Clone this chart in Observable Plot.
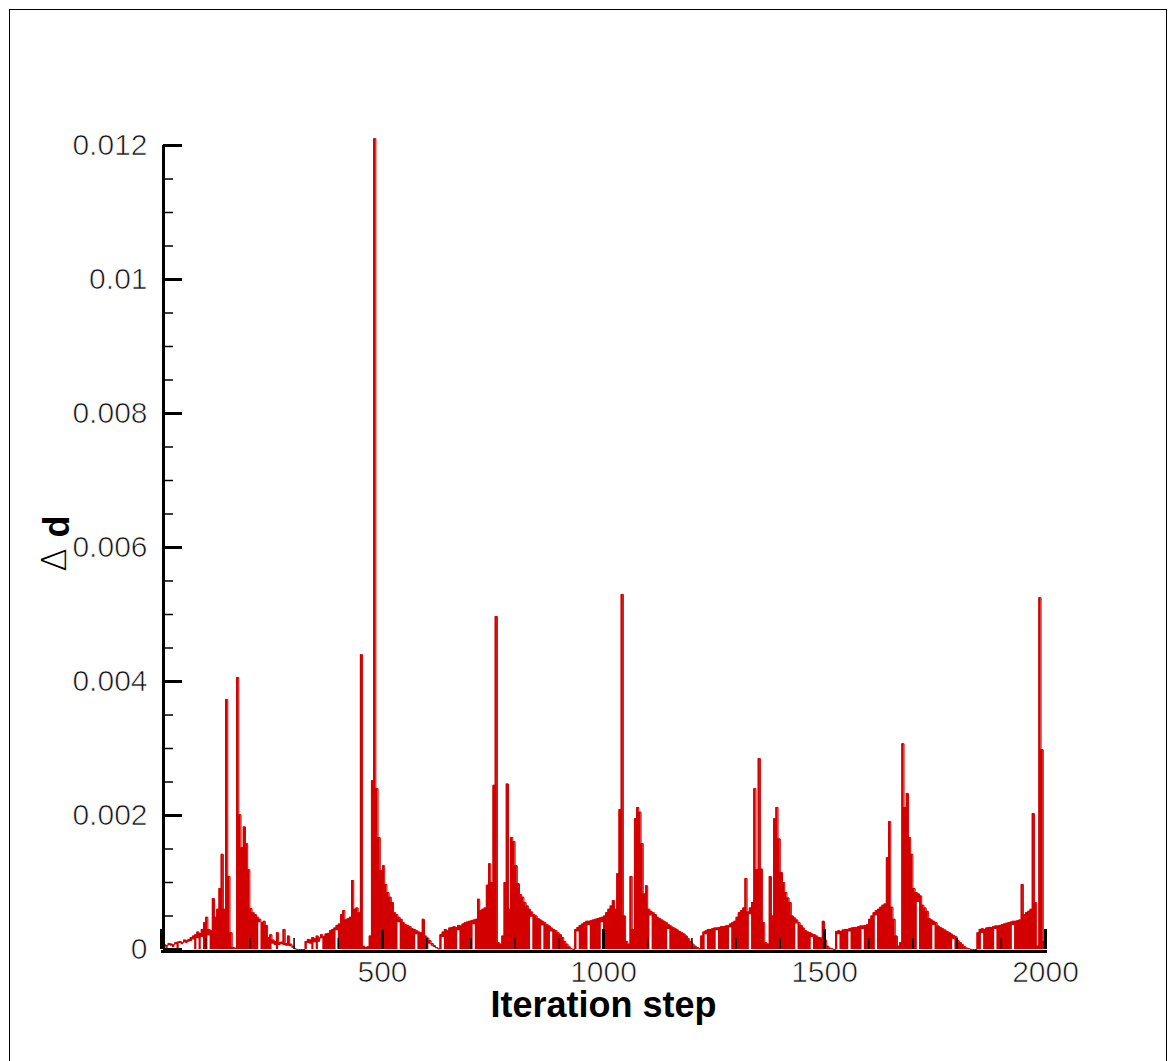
<!DOCTYPE html>
<html><head><meta charset="utf-8">
<script src="https://cdn.jsdelivr.net/npm/d3@7"></script>
<script src="https://cdn.jsdelivr.net/npm/@observablehq/plot@0.6"></script>
<style>
html,body{margin:0;padding:0;background:#fff;}
#wrap{position:relative;width:1176px;height:1061px;overflow:hidden;background:#fff;}
#wrap svg{position:absolute;left:0;top:0;}
#frame{position:absolute;left:9px;top:9px;width:1158px;height:1120px;border:1.5px solid #000;box-sizing:border-box;pointer-events:none;}
#wrap svg [aria-label="y-axis tick label"] text,
#wrap svg [aria-label="x-axis tick label"] text{stroke:#fff;stroke-width:0.7px;paint-order:normal;}
</style></head><body><div id="wrap"><div id="frame"></div></div>
<script>
// Δd, one window per 5 iterations (max and min of the trace in the window), in units of 1e-5
const STEP = 5;
const UNIT = 1e-5;
const hiE5 = [
 5,7,6,9,8,7,10, 11,12,10,14,13,15, 18,20,22,26,24,30,40, 48,30,28,76,48, 60,91,142,60,
 373,109,25,3,2, 406,201,152,183,158,119, 61,55,52,48,45,40,42,36, 18,22,14,12,25,
 10,11,30,9,20,8,5, 1,0,0,0,0,
 12,15,14,18,16,20,17,22,19,23,24, 28,30,32,36,38,52,58,44,46, 48,103,60,62,55, 440, 5,3,4,
 20,252,1210,240,167,118,125, 97,85,78,70,55,52,48,45,40, 37,36,34,31,30,28,26,25, 45,20,17,13,9,6,3,1,
 22,26,30,28,32,33,34,33,36,35, 38,40,41,42,43,44,45,75, 58,60,62,96,128,100,245,497,
 10,8,20,100,247,60,167,161,125, 98,82,78,70,65,60,56,52,50, 46,44,42,40,37,35,32,30,28,25, 22,18,12,8,4,1,0,
 30,33,36,38,40,42,42,43,44,45,46,47,48, 50,55,60,65,73,60,113,209,530,
 50,12,8,109,30,195,212,205,158,83,95, 60,57,55,52,48,46,44,42,40,37, 35,33,31,29,27,25,23,20,16,12,8,5,3,1,
 20,26,28,30,30,31,32,32,33,34,34,35,36,38, 40,42,48,55,58,62,106,56,62,70,
 240,119,285,120,40,10,8,109,50, 195,212,165,115,100,85,77,70, 50,47,44,40,36,32,28,26,25,23,22,20,18,17, 42,14,5,2,1,0,
 27,28,27,29,30,30,31,32,33,33,34,35,35,36,37, 45,50,55,58,60,63,66,68,137,191,63,45,20,5,10,
 307,212,233,167,142,91,85,83,80,66,62,57, 46,44,42,40,35,33,31,29,27,25,23,21,19, 13,10,7,4,2,1,0,0,0,
 25,30,31,30,32,33,33,34,35,35,36,37,38,39,40,41,42,42,43,44, 97,52,55,57,60,203,70,5,525,298,12
];
const loE5 = [
 2,4,0,6,5,3,7, 0,9,7,10,9,11, 12,14,0,16,0,18,0, 0,20,0,0,0, 0,0,0,0,
 0,0,0,0,0, 0,0,0,0,0,0, 0,0,0,0,40,0,0,0, 0,0,8,6,0,
 6,7,6,5,5,4,2, 0,0,0,0,0,
 0,9,8,0,10,0,11,16,0,0,0, 0,0,0,28,0,0,0,0,0, 0,0,0,0,0, 0, 0,0,0,
 0,0,0,0,0,0,0, 0,0,0,0,0,0,40,0,0, 0,0,0,0,0,22,0,0, 0,0,0,8,5,3,1,0,
 0,18,0,0,0,0,0,0,28,0, 0,0,0,0,0,37,0,0, 0,0,0,0,0,0,0,0,
 0,0,0,0,0,0,0,0,0, 0,0,0,0,0,0,48,0,0, 0,0,35,0,0,0,26,0,0,0, 0,0,0,0,0,0,0,
 0,26,0,0,0,0,36,0,0,0,0,0,40, 0,0,0,0,0,0,0,0,0,
 0,0,0,0,0,0,0,0,0,0,0, 0,50,0,0,0,0,0,0,0,30, 0,0,0,0,0,0,0,0,0,0,0,0,0,0,
 0,0,22,0,0,0,0,28,0,0,0,0,0,32, 0,0,0,0,0,0,0,0,52,0,
 0,0,0,0,0,0,0,0,0, 0,0,0,0,0,0,0,0, 0,0,38,0,0,0,0,0,0,18,0,0,0,0, 0,0,0,0,0,0,
 0,22,0,0,0,0,26,0,0,0,0,0,30,0,0, 0,0,0,50,0,0,0,0,0,0,0,0,0,0,0,
 0,0,0,0,0,0,0,70,0,0,0,0, 0,0,36,0,0,0,0,0,0,0,0,15,0, 0,0,0,0,0,0,0,0,0,
 0,0,24,0,0,0,0,0,30,0,0,0,0,0,0,0,36,0,0,0, 0,0,0,0,0,0,0,0,0,0,0
];
const xMajorTicks = [0, 500, 1000, 1500, 2000];
const xMinorTicks = [100,200,300,400,600,700,800,900,1100,1200,1300,1400,1600,1700,1800,1900];
const xTickLabels = [500, 1000, 1500, 2000];
const yMajorTicks = [0, 0.002, 0.004, 0.006, 0.008, 0.01, 0.012];
const yMinorTicks = [0.0005,0.001,0.0015,0.0025,0.003,0.0035,0.0045,0.005,0.0055,0.0065,0.007,0.0075,0.0085,0.009,0.0095,0.0105,0.011,0.0115];
const xTitle = "Iteration step";
const yTitleSymbol = "\u0394";
const yTitleVar = "d";

const RED = "#d20000";
const samples = hiE5.map((h, i) => ({x: i * STEP, hi: h * UNIT, lo: (loE5[i] ?? 0) * UNIT}));
samples.push({x: samples.length * STEP, hi: samples.at(-1).hi, lo: samples.at(-1).lo});

const FONT = "'Liberation Sans', Arial, Helvetica, sans-serif";
const plain = d3.format("");
const chart = Plot.plot({
  width: 1176, height: 1061,
  marginLeft: 161, marginRight: 131, marginTop: 145, marginBottom: 112,
  x: {domain: [0, 2000]},
  y: {domain: [0, 0.012]},
  style: {fontFamily: FONT, background: "transparent", overflow: "visible"},
  marks: [
    Plot.areaY(samples, {x: "x", y1: "lo", y2: "hi", curve: "step-after", fill: RED}),
    Plot.lineY(samples, {x: "x", y: "hi", curve: "step-after", stroke: RED, strokeWidth: 1}),
    // axis lines
    Plot.ruleX([0], {y1: 0, y2: 0.012, stroke: "#000", strokeWidth: 3, dx: 2}),
    Plot.ruleY([0], {x1: 0, x2: 2000, stroke: "#000", strokeWidth: 3, dy: 2, insetRight: -2}),
    // inward ticks
    Plot.axisY(yMajorTicks, {anchor: "left", label: null, tickSize: -19, strokeWidth: 3, dx: 2, tickFormat: () => "", stroke: "#000"}),
    Plot.axisY(yMinorTicks, {anchor: "left", label: null, tickSize: -10, strokeWidth: 1.5, dx: 2, tickFormat: () => "", stroke: "#000"}),
    Plot.axisX(xMajorTicks, {anchor: "bottom", label: null, tickSize: -20, strokeWidth: 3, tickFormat: () => "", stroke: "#000"}),
    Plot.axisX(xMinorTicks, {anchor: "bottom", label: null, tickSize: -11, strokeWidth: 1.5, tickFormat: () => "", stroke: "#000"}),
    // tick labels
    Plot.axisY(yMajorTicks, {anchor: "left", label: null, tickSize: 0, tickPadding: 14, fontSize: 30, fill: "#111", tickFormat: plain}),
    Plot.axisX(xTickLabels, {anchor: "bottom", label: null, tickSize: 0, tickPadding: 11, fontSize: 30, fill: "#111", tickFormat: plain}),
    // titles
    Plot.text([xTitle], {frameAnchor: "bottom", dy: 67, fontSize: 36, fontWeight: "bold", fill: "#000", text: d => d}),
    Plot.text([yTitleVar], {frameAnchor: "left", dx: -104, dy: -10, rotate: -90, fontSize: 36, fontWeight: "bold", fill: "#000", text: d => d}),
    Plot.text([yTitleSymbol], {frameAnchor: "left", dx: -106, dy: 24, rotate: -90, fontSize: 34, fontFamily: "'DejaVu Sans', sans-serif", fontWeight: 200, fill: "#000", text: d => d})
  ]
});
document.getElementById("wrap").prepend(chart);
</script>
</body></html>
